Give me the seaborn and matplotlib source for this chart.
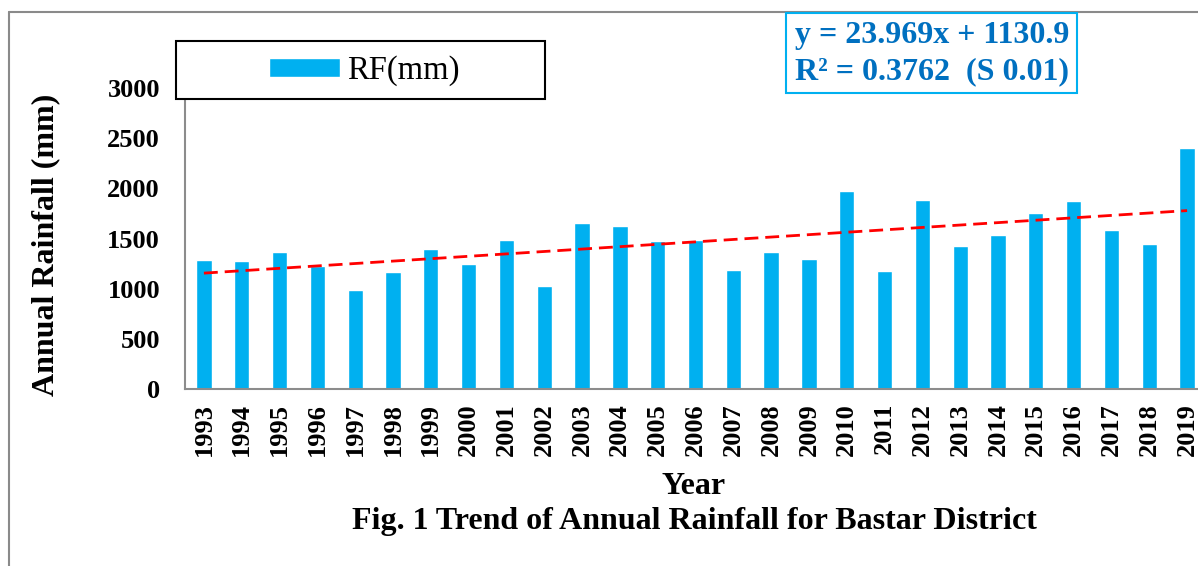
import matplotlib.pyplot as plt
import seaborn as sns
import matplotlib.patches as patches
from matplotlib.lines import Line2D
import numpy as np
import pandas as pd

years = list(range(1993, 2020))
rainfall = [1290, 1272, 1369, 1226, 990, 1163, 1392, 1249, 1489, 1030,
            1652, 1622, 1472, 1482, 1183, 1362, 1292, 1971, 1173, 1881,
            1429, 1532, 1751, 1871, 1582, 1449, 2400]
slope = 23.969
intercept = 1130.9
r2 = 0.3762

df = pd.DataFrame({'Year': years, 'RF(mm)': rainfall})

sns.set_style('white')
plt.rcParams['font.family'] = ['Liberation Serif', 'DejaVu Serif']
plt.rcParams['text.color'] = 'black'
plt.rcParams['xtick.color'] = 'black'
plt.rcParams['ytick.color'] = 'black'

W, H = 1198, 566
fig = plt.figure(figsize=(W / 100, H / 100), dpi=100)

def fx(px):
    return px / W

def fy(py):
    return 1 - py / H

ax = fig.add_axes([fx(185), fy(389), fx(1206) - fx(185), fy(88) - fy(389)])
sns.barplot(data=df, x='Year', y='RF(mm)', color='#00B0F0', width=0.405,
            saturation=1, ax=ax, label='RF(mm)')
if ax.get_legend() is not None:
    ax.get_legend().remove()

# linear trend (Excel-style, x = 1..n)
idx = np.arange(1, len(years) + 1)
trend = slope * idx + intercept
ax.plot(idx - 1, trend, color='#FF0000', lw=2, dashes=(5, 2.5), zorder=3)

ax.set_xlim(-0.5, len(years) - 0.5)
ax.set_ylim(0, 3000)
ax.set_yticks(np.arange(0, 3001, 500))
ax.set_xlabel('')
ax.set_ylabel('')
ax.tick_params(axis='y', length=0, pad=18, labelsize=19)
ax.tick_params(axis='x', length=0, pad=10, labelsize=19, labelrotation=90)
for lab in ax.get_xticklabels() + ax.get_yticklabels():
    lab.set_fontweight('bold')
for side in ['top', 'right']:
    ax.spines[side].set_visible(False)
for side in ['left', 'bottom']:
    ax.spines[side].set_color('#8C8C8C')
    ax.spines[side].set_linewidth(1.5)

fig.text(fx(46), fy(245), 'Annual Rainfall (mm)', rotation=90, ha='center',
         va='center', fontsize=23, fontweight='bold')
fig.text(fx(694), fy(487), 'Year', ha='center', va='center', fontsize=23,
         fontweight='bold')
fig.text(fx(694), fy(522), 'Fig. 1 Trend of Annual Rainfall for Bastar District',
         ha='center', va='center', fontsize=23, fontweight='bold')

# legend box
fig.patches.append(patches.Rectangle((fx(176), fy(99)), fx(545) - fx(176),
                                     fy(41) - fy(99), transform=fig.transFigure,
                                     facecolor='white', edgecolor='black',
                                     lw=1.5, zorder=5))
handles, labels = ax.get_legend_handles_labels()
fig.legend(handles[:1], labels[:1], loc='center',
           bbox_to_anchor=(fx(364), fy(71)), frameon=False, fontsize=23.5,
           handlelength=2.2, handleheight=0.55, handletextpad=0.2)

# equation box
fig.patches.append(patches.Rectangle((fx(786), fy(93)), fx(1077) - fx(786),
                                     fy(13) - fy(93), transform=fig.transFigure,
                                     facecolor='white', edgecolor='#00B0F0',
                                     lw=1.5, zorder=5))
fig.text(fx(795), fy(35), f'y = {slope}x + {intercept}', ha='left',
         va='center', fontsize=23, fontweight='bold', color='#0070C0', zorder=6)
fig.text(fx(795), fy(72), f'R² = {r2}  (S 0.01)', ha='left', va='center',
         fontsize=23, fontweight='bold', color='#0070C0', zorder=6)

# outer frame
fig.add_artist(Line2D([fx(9), 1], [fy(12), fy(12)], color='#8A8A8A', lw=1.5))
fig.add_artist(Line2D([fx(9), fx(9)], [fy(12), 0], color='#8A8A8A', lw=1.5))

fig.savefig('out.png', dpi=100)
